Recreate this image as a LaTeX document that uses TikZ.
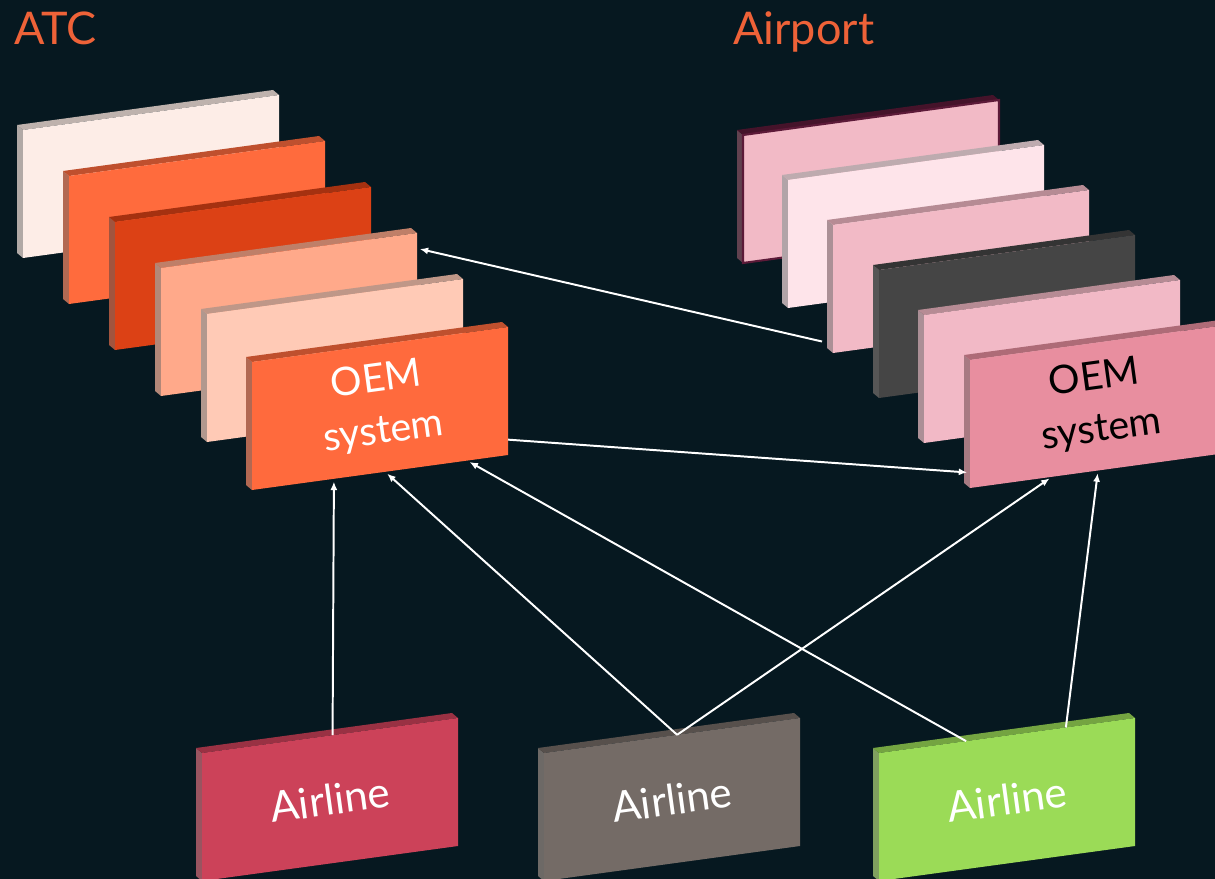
\documentclass[tikz,border=0pt]{standalone}
\usepackage{fontspec}
\setmainfont{Lato}
\usepackage{xcolor}
\usetikzlibrary{arrows.meta,positioning,calc}

\definecolor{bg}{HTML}{061820}
\definecolor{ttl}{HTML}{EE6238}
\definecolor{atcA}{HTML}{FDEDE7}
\definecolor{atcB}{HTML}{FF6B3D}
\definecolor{atcC}{HTML}{DC4115}
\definecolor{atcD}{HTML}{FFA98A}
\definecolor{atcE}{HTML}{FFCAB6}
\definecolor{atcF}{HTML}{FF6A3D}
\definecolor{apA}{HTML}{F2BAC6}
\definecolor{apEdge}{HTML}{5C1A38}
\definecolor{apB}{HTML}{FEE4EA}
\definecolor{apC}{HTML}{F2BAC6}
\definecolor{apD}{HTML}{454545}
\definecolor{apE}{HTML}{F2B9C6}
\definecolor{apF}{HTML}{E88E9F}
\definecolor{airRed}{HTML}{CC4259}
\definecolor{airGrey}{HTML}{746B66}
\definecolor{airGreen}{HTML}{9BDB57}

% one slanted slab: [face opts]{name}{top left}{face colour}{edge colour}
\newcommand{\panel}[5][]{%
  \coordinate (#2-tl) at (#3);
  \coordinate (#2-tr) at ($(#2-tl)+(256,-35)$);
  \coordinate (#2-bl) at ($(#2-tl)+(0,128)$);
  \coordinate (#2-br) at ($(#2-tr)+(0,128)$);
  \fill[#5!55!gray!90!black] (#2-tl) -- ++(-6,-5) -- ($(#2-bl)+(-6,-5)$) -- (#2-bl) -- cycle;
  \fill[#5!75!black] (#2-tl) -- ++(-6,-5) -- ($(#2-tr)+(-6,-5)$) -- (#2-tr) -- cycle;
  \path[fill=#4, #1] (#2-tl) -- (#2-tr) -- (#2-br) -- (#2-bl) -- cycle;
}

\begin{document}
\begin{tikzpicture}[x=0.025cm, y=-0.025cm, >=Latex]
\tikzstyle{title}=[text=ttl, font=\fontsize{32}{36}\selectfont, inner sep=0pt]
\tikzstyle{lbl}=[font=\fontsize{28}{37}\selectfont, align=center, rotate=7.8, inner sep=0pt]
\tikzstyle{air}=[lbl, font=\fontsize{30}{36}\selectfont, text=white]
\tikzstyle{arr}=[-{Latex[length=6pt,width=5pt]}, white, line width=1.4pt, shorten >=2pt]

\fill[bg] (0,0) rectangle (1215,879);
\useasboundingbox (0,0) rectangle (1215,879);

\node[title, anchor=base west] (atc) at (14,45) {ATC};
\node[title, anchor=base west] (airport) at (733,45) {Airport};

% ATC stack
\panel{atc1}{23,130}{atcA}{atcA}
\panel{atc2}{69,176}{atcB}{atcB}
\panel{atc3}{115,222}{atcC}{atcC}
\panel{atc4}{161,268}{atcD}{atcD}
\panel{atc5}{207,314}{atcE}{atcE}
\panel{atc6}{252,362}{atcF}{atcF}
\node[lbl, text=white] (atcOem) at ($(atc6-tl)!0.5!(atc6-br)+(0,-2)$) {OEM\\system};

% Airport stack
\panel[draw=apEdge, line width=1.5pt]{ap1}{743,135}{apA}{apEdge}
\panel{ap2}{788,180}{apB}{apB}
\panel{ap3}{833,225}{apC}{apC}
\panel{ap4}{879,270}{apD}{apD}
\panel{ap5}{924,315}{apE}{apE}
\panel{ap6}{970,360}{apF}{apF}
\node[lbl, text=black] (apOem) at ($(ap6-tl)!0.5!(ap6-br)+(0,-2)$) {OEM\\system};

% airlines
\panel{red}{202,753}{airRed}{airRed}
\panel{grey}{544,753}{airGrey}{airGrey}
\panel{green}{879,753}{airGreen}{airGreen}
\node[air] (redTxt) at ($(red-tl)!0.5!(red-br)$) {Airline};
\node[air] (greyTxt) at ($(grey-tl)!0.5!(grey-br)$) {Airline};
\node[air] (greenTxt) at ($(green-tl)!0.5!(green-br)$) {Airline};

% links
\draw[arr, shorten <=8pt] ($(ap3-tl)!0.93!(ap3-bl)$) -- ($(atc4-tr)!0.12!(atc4-br)$);
\draw[arr] ($(atc6-tr)!0.88!(atc6-br)$) -- ($(ap6-tl)!0.88!(ap6-bl)$);
\draw[arr] ($(red-tl)!0.51!(red-tr)$) -- ($(atc6-bl)!0.32!(atc6-br)$);
\draw[arr] ($(grey-tl)!0.52!(grey-tr)$) -- ($(atc6-bl)!0.52!(atc6-br)$);
\draw[arr] ($(grey-tl)!0.52!(grey-tr)$) -- ($(ap6-bl)!0.32!(ap6-br)$);
\draw[arr] ($(green-tl)!0.34!(green-tr)$) -- ($(atc6-bl)!0.84!(atc6-br)$);
\draw[arr] ($(green-tl)!0.73!(green-tr)$) -- ($(ap6-bl)!0.50!(ap6-br)$);

\end{tikzpicture}
\end{document}
